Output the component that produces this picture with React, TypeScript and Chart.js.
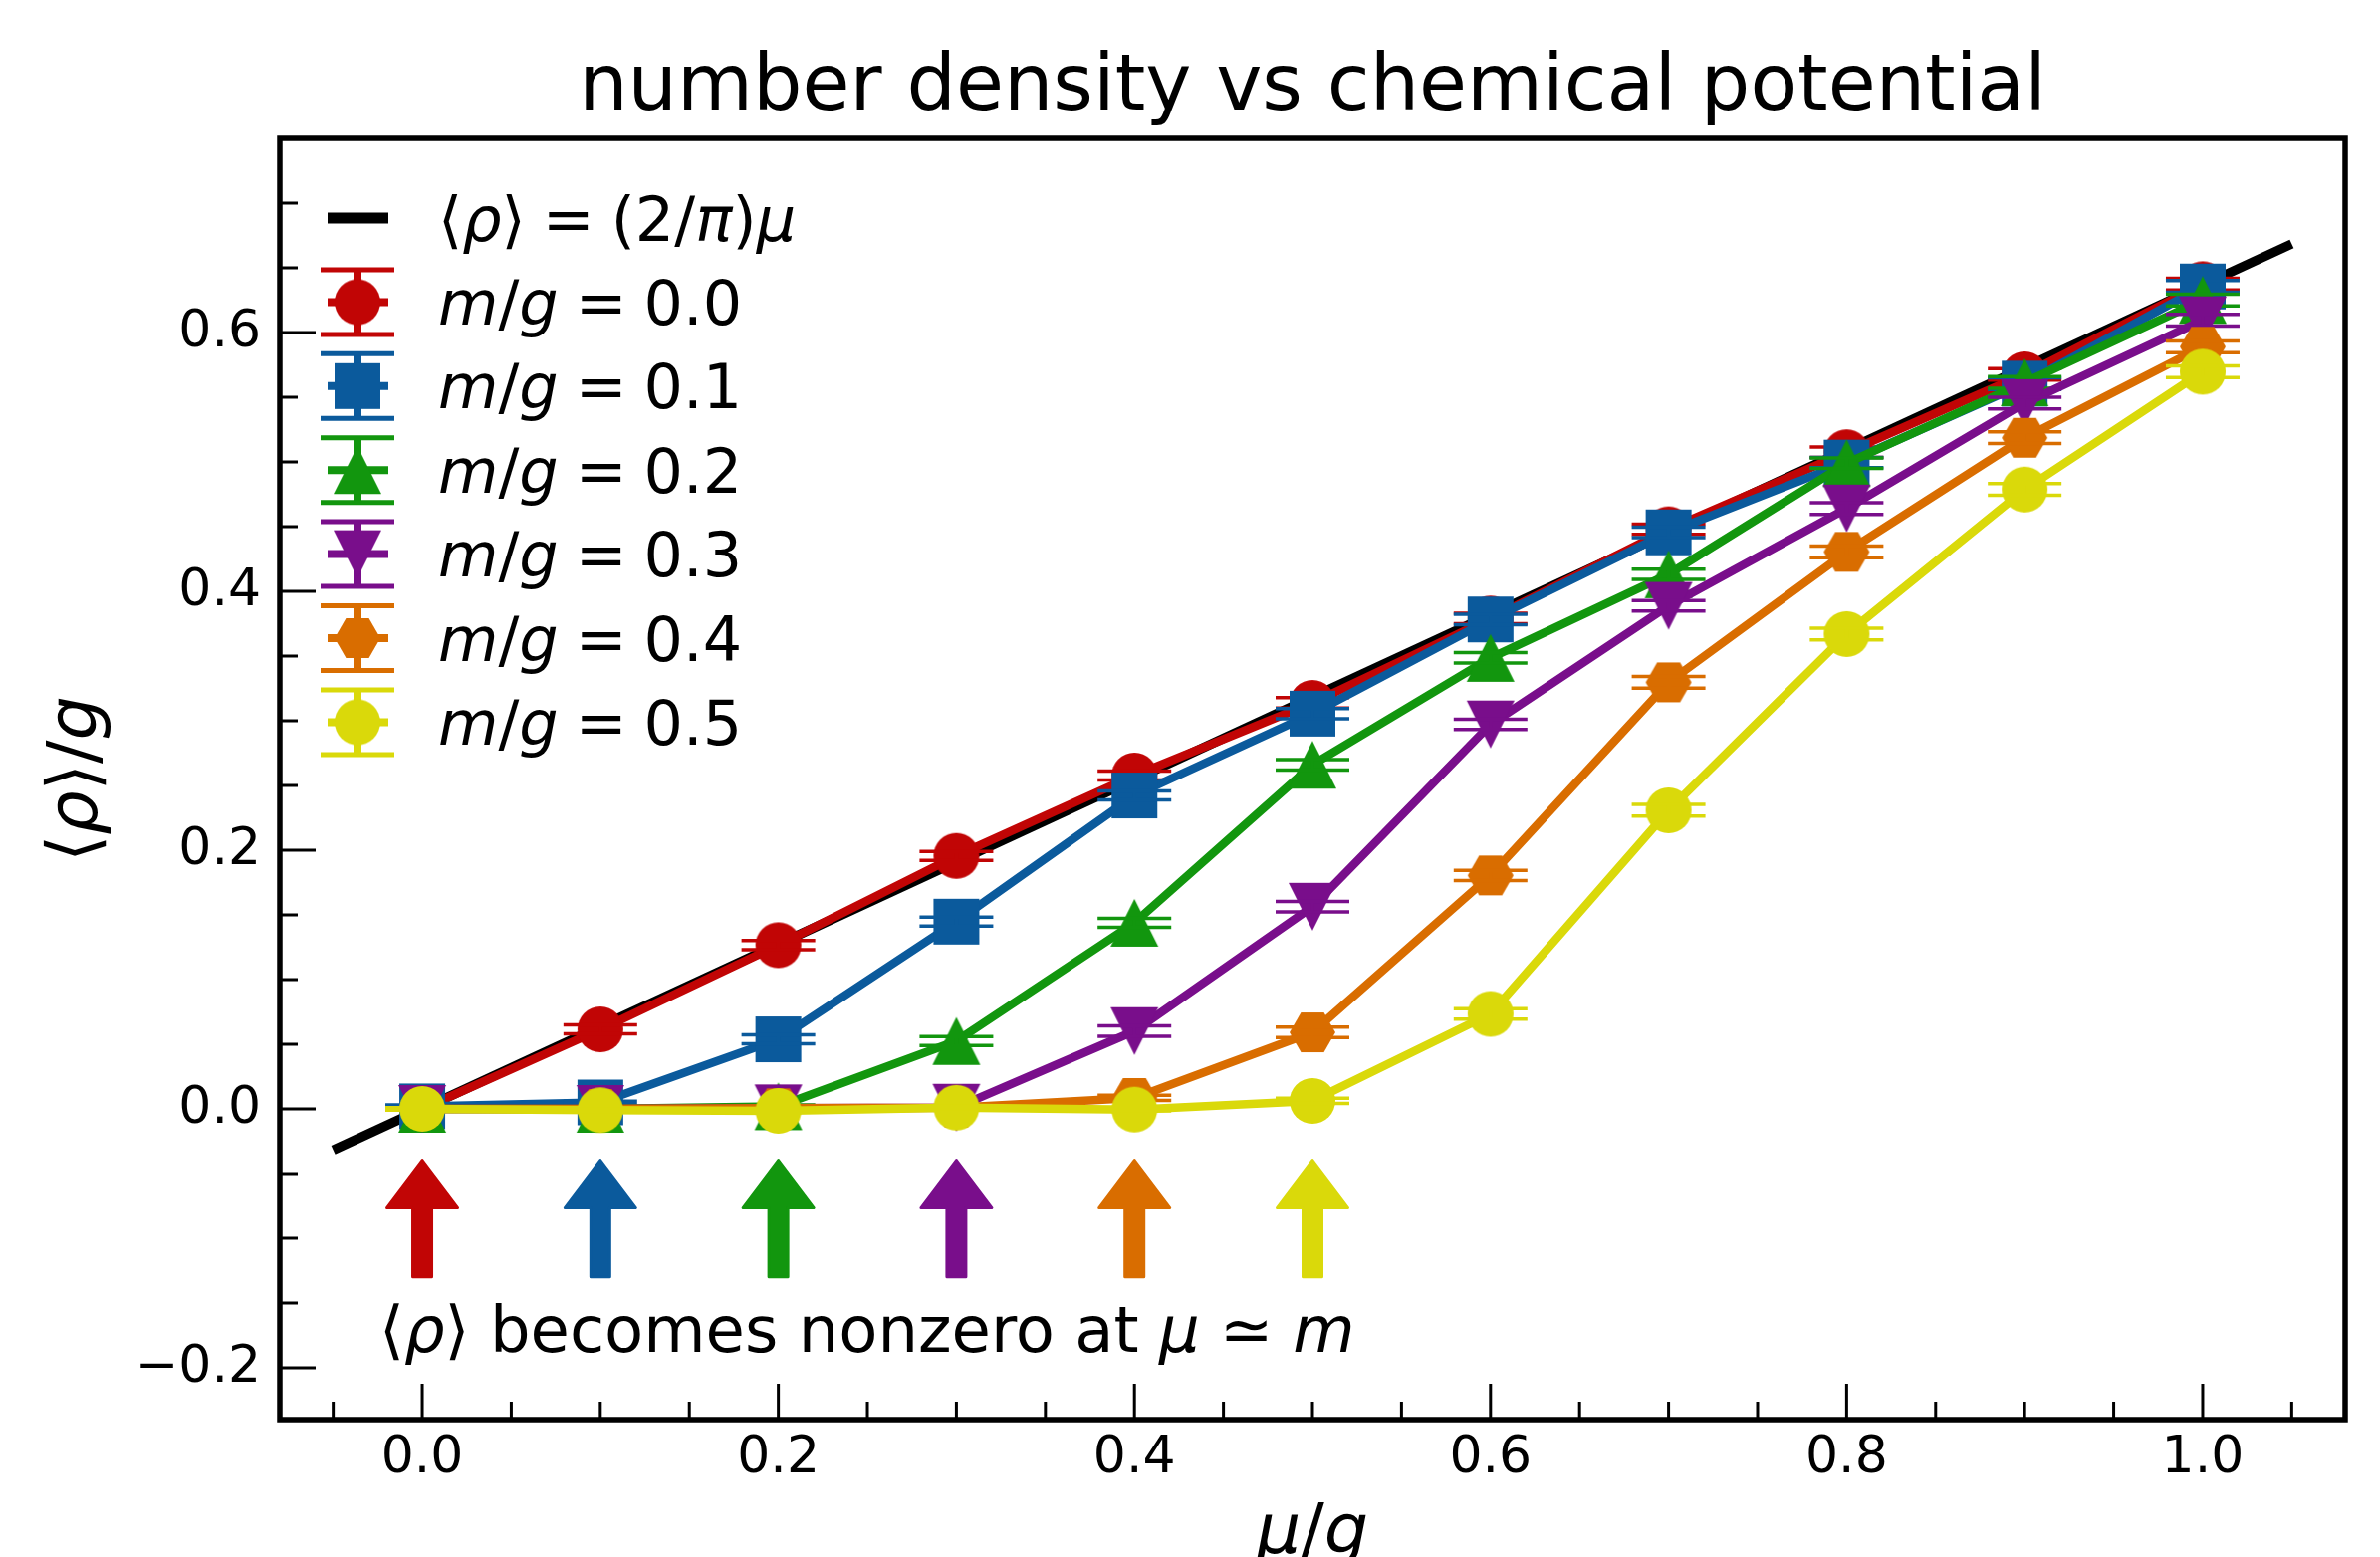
import React, { useEffect, useRef } from 'react';
import { Chart, registerables } from 'chart.js';

Chart.register(...registerables);

// ---------- data ----------
const muValues = [0.0, 0.1, 0.2, 0.3, 0.4, 0.5, 0.6, 0.7, 0.8, 0.9, 1.0];
const massLabels = ['0.0', '0.1', '0.2', '0.3', '0.4', '0.5'];

const rhoM00 = [0.0, 0.0615, 0.1266, 0.1956, 0.2577, 0.3138, 0.379, 0.448, 0.5075, 0.5677, 0.6374];
const rhoM01 = [0.002, 0.005, 0.0538, 0.1448, 0.2423, 0.3055, 0.3783, 0.4456, 0.4995, 0.5605, 0.6356];
const rhoM02 = [0.0, 0.0, 0.002, 0.0525, 0.1439, 0.266, 0.3486, 0.4132, 0.499, 0.5615, 0.6251];
const rhoM03 = [0.0, 0.0, 0.0005, 0.001, 0.0602, 0.1563, 0.2972, 0.3888, 0.464, 0.5455, 0.6095];
const rhoM04 = [0.0, 0.0, 0.0005, 0.001, 0.0085, 0.0592, 0.1805, 0.3297, 0.4305, 0.5187, 0.589];
const rhoM05 = [0.0, -0.001, -0.0015, 0.001, -0.0005, 0.0062, 0.0735, 0.2308, 0.367, 0.4787, 0.5697];

const errM00 = [0.001, 0.0035, 0.0035, 0.0035, 0.0035, 0.004, 0.004, 0.004, 0.004, 0.0045, 0.0045];
const errM01 = [0.001, 0.001, 0.0035, 0.0035, 0.0035, 0.004, 0.004, 0.004, 0.004, 0.0045, 0.0045];
const errM02 = [0.001, 0.001, 0.001, 0.0035, 0.0035, 0.004, 0.004, 0.004, 0.004, 0.0045, 0.0045];
const errM03 = [0.001, 0.001, 0.001, 0.001, 0.004, 0.004, 0.004, 0.004, 0.0045, 0.0045, 0.0045];
const errM04 = [0.001, 0.001, 0.001, 0.001, 0.002, 0.004, 0.004, 0.0045, 0.0045, 0.0045, 0.0045];
const errM05 = [0.001, 0.001, 0.001, 0.001, 0.001, 0.002, 0.004, 0.0045, 0.0045, 0.0045, 0.0045];

const theoryMu = [-0.05, 1.05];
const theoryRho = [-0.0318, 0.6685];

const arrowMu = [0.0, 0.1, 0.2, 0.3, 0.4, 0.5];
const arrowTailRho = -0.131;
const arrowTipRho = -0.0385;

const xMajorTicks = [0.0, 0.2, 0.4, 0.6, 0.8, 1.0];
const xMinorTicks = [-0.05, 0.05, 0.1, 0.15, 0.25, 0.3, 0.35, 0.45, 0.5, 0.55, 0.65, 0.7, 0.75, 0.85, 0.9, 0.95, 1.05];
const yMajorTicks = [-0.2, 0.0, 0.2, 0.4, 0.6];
const yMinorTicks = [-0.15, -0.1, -0.05, 0.05, 0.1, 0.15, 0.25, 0.3, 0.35, 0.45, 0.5, 0.55, 0.65, 0.7];

const seriesColors = ['#C10505', '#0B5A9C', '#12960E', '#790E8B', '#D96D00', '#DAD90A'];
const seriesMarkers = ['circle', 'square', 'triUp', 'triDown', 'hexagon', 'circle'];

const W = 2390;
const H = 1564;
const FONT = '"DejaVu Sans"';

type Seg = { t: string; it?: boolean; gap?: number };

function fontStr(size: number, it?: boolean) {
  return `${it ? 'italic ' : ''}${size}px ${FONT}`;
}

function drawRich(ctx: CanvasRenderingContext2D, segs: Seg[], x: number, y: number, size: number, align: 'left' | 'center') {
  ctx.save();
  ctx.textBaseline = 'alphabetic';
  ctx.textAlign = 'left';
  ctx.fillStyle = '#000';
  let total = 0;
  const widths = segs.map((s) => {
    ctx.font = fontStr(size, s.it);
    const w = ctx.measureText(s.t).width + (s.gap || 0);
    total += w;
    return w;
  });
  let cx = align === 'center' ? x - total / 2 : x;
  segs.forEach((s, i) => {
    ctx.font = fontStr(size, s.it);
    ctx.fillText(s.t, cx + (s.gap || 0), y);
    cx += widths[i];
  });
  ctx.restore();
}

function makeMarker(kind: string, color: string): HTMLCanvasElement {
  const c = document.createElement('canvas');
  c.width = 52;
  c.height = 52;
  const g = c.getContext('2d')!;
  g.fillStyle = color;
  g.translate(26, 26);
  g.beginPath();
  if (kind === 'circle') {
    g.arc(0, 0, 23, 0, Math.PI * 2);
  } else if (kind === 'square') {
    g.rect(-23, -23, 46, 46);
  } else if (kind === 'triUp') {
    g.moveTo(0, -24);
    g.lineTo(24, 24);
    g.lineTo(-24, 24);
    g.closePath();
  } else if (kind === 'triDown') {
    g.moveTo(0, 24);
    g.lineTo(24, -24);
    g.lineTo(-24, -24);
    g.closePath();
  } else if (kind === 'hexagon') {
    const r = 23;
    for (let k = 0; k < 6; k++) {
      const a = (Math.PI / 3) * k;
      const px = r * Math.cos(a);
      const py = r * Math.sin(a);
      if (k === 0) g.moveTo(px, py);
      else g.lineTo(px, py);
    }
    g.closePath();
  }
  g.fill();
  return c;
}

export default function App() {
  const canvasRef = useRef<HTMLCanvasElement | null>(null);

  useEffect(() => {
    const canvas = canvasRef.current;
    if (!canvas) return;
    const seriesValues = [rhoM00, rhoM01, rhoM02, rhoM03, rhoM04, rhoM05];
    const seriesErrors = [errM00, errM01, errM02, errM03, errM04, errM05];
    const markerCanvases = seriesMarkers.map((m, i) => makeMarker(m, seriesColors[i]));

    const datasets: any[] = seriesValues.map((vals, i) => ({
      label: `m/g = ${massLabels[i]}`,
      data: muValues.map((m, j) => ({ x: m, y: vals[j] })),
      borderColor: seriesColors[i],
      backgroundColor: seriesColors[i],
      borderWidth: 8.5,
      borderJoinStyle: 'round',
      pointStyle: markerCanvases[i],
      pointRadius: 23,
      pointHoverRadius: 23,
      tension: 0,
      fill: false,
      order: 6 - i,
    }));
    datasets.push({
      label: 'theory',
      data: theoryMu.map((m, j) => ({ x: m, y: theoryRho[j] })),
      borderColor: '#000',
      backgroundColor: '#000',
      borderWidth: 9.5,
      pointRadius: 0,
      tension: 0,
      fill: false,
      order: 10,
    });

    const errorBarPlugin = {
      id: 'errorBars',
      afterDatasetDraw(chart: any, args: any) {
        const i = args.index;
        if (i >= seriesValues.length) return;
        const ctx = chart.ctx as CanvasRenderingContext2D;
        const xs = chart.scales.x;
        const ys = chart.scales.y;
        ctx.save();
        ctx.strokeStyle = seriesColors[i];
        ctx.lineCap = 'butt';
        seriesValues[i].forEach((v, j) => {
          const e = seriesErrors[i][j];
          const px = xs.getPixelForValue(muValues[j]);
          const pTop = ys.getPixelForValue(v + e);
          const pBot = ys.getPixelForValue(v - e);
          ctx.lineWidth = 3.5;
          ctx.beginPath();
          ctx.moveTo(px, pTop);
          ctx.lineTo(px, pBot);
          ctx.moveTo(px - 37, pTop);
          ctx.lineTo(px + 37, pTop);
          ctx.moveTo(px - 37, pBot);
          ctx.lineTo(px + 37, pBot);
          ctx.stroke();
        });
        ctx.restore();
      },
    };

    const decorPlugin = {
      id: 'decor',
      afterDraw(chart: any) {
        const ctx = chart.ctx as CanvasRenderingContext2D;
        const xs = chart.scales.x;
        const ys = chart.scales.y;
        const a = chart.chartArea;

        // arrows
        arrowMu.forEach((m, i) => {
          const px = xs.getPixelForValue(m);
          const tip = ys.getPixelForValue(arrowTipRho) + 1.5;
          const tail = ys.getPixelForValue(arrowTailRho) - 1.5;
          const headBase = tip + 47;
          const hw = 35.5;
          const sw = 9.5;
          ctx.save();
          ctx.fillStyle = seriesColors[i];
          ctx.strokeStyle = seriesColors[i];
          ctx.lineWidth = 3;
          ctx.lineJoin = 'round';
          ctx.beginPath();
          ctx.moveTo(px, tip);
          ctx.lineTo(px + hw, headBase);
          ctx.lineTo(px + sw, headBase);
          ctx.lineTo(px + sw, tail);
          ctx.lineTo(px - sw, tail);
          ctx.lineTo(px - sw, headBase);
          ctx.lineTo(px - hw, headBase);
          ctx.closePath();
          ctx.fill();
          ctx.stroke();
          ctx.restore();
        });

        // ticks (inward, left and bottom)
        ctx.save();
        ctx.strokeStyle = '#000';
        ctx.lineWidth = 3;
        ctx.lineCap = 'butt';
        const tickX = (vals: number[], len: number) => {
          vals.forEach((v) => {
            const px = xs.getPixelForValue(v);
            ctx.beginPath();
            ctx.moveTo(px, a.bottom);
            ctx.lineTo(px, a.bottom - len);
            ctx.stroke();
          });
        };
        const tickY = (vals: number[], len: number) => {
          vals.forEach((v) => {
            const py = ys.getPixelForValue(v);
            ctx.beginPath();
            ctx.moveTo(a.left, py);
            ctx.lineTo(a.left + len, py);
            ctx.stroke();
          });
        };
        tickX(xMajorTicks, 36);
        tickX(xMinorTicks, 18);
        tickY(yMajorTicks, 36);
        tickY(yMinorTicks, 18);
        // spines
        ctx.lineWidth = 5.5;
        ctx.lineJoin = 'miter';
        ctx.strokeRect(a.left, a.top, a.right - a.left, a.bottom - a.top);
        ctx.restore();

        // title
        ctx.save();
        ctx.fillStyle = '#000';
        ctx.font = fontStr(78);
        ctx.textAlign = 'center';
        ctx.textBaseline = 'alphabetic';
        ctx.fillText('number density vs chemical potential', (a.left + a.right) / 2, 110);
        ctx.restore();

        // axis labels
        drawRich(ctx, [{ t: 'μ', it: true }, { t: '/' }, { t: 'g', it: true }], (a.left + a.right) / 2, 1560, 70, 'center');
        ctx.save();
        ctx.translate(97, (a.top + a.bottom) / 2);
        ctx.rotate(-Math.PI / 2);
        drawRich(ctx, [{ t: '⟨' }, { t: 'ρ', it: true }, { t: '⟩/' }, { t: 'g', it: true }], 0, 0, 70, 'center');
        ctx.restore();

        // annotation
        drawRich(
          ctx,
          [
            { t: '⟨' },
            { t: 'ρ', it: true },
            { t: '⟩ becomes nonzero at ' },
            { t: 'μ', it: true },
            { t: '≃', gap: 20 },
            { t: 'm', it: true, gap: 20 },
          ],
          381,
          1358,
          64,
          'left'
        );

        // legend
        const hx = 359;
        const textX = 440;
        const row0 = 219;
        const rowGap = 84.4;
        ctx.save();
        ctx.strokeStyle = '#000';
        ctx.lineWidth = 11;
        ctx.beginPath();
        ctx.moveTo(329, row0);
        ctx.lineTo(390, row0);
        ctx.stroke();
        ctx.restore();
        drawRich(
          ctx,
          [
            { t: '⟨' },
            { t: 'ρ', it: true },
            { t: '⟩' },
            { t: '=', gap: 17 },
            { t: '(2/', gap: 17 },
            { t: 'π', it: true },
            { t: ')' },
            { t: 'μ', it: true },
          ],
          textX,
          row0 + 22.6,
          62,
          'left'
        );
        massLabels.forEach((lab, i) => {
          const cy = row0 + rowGap * (i + 1);
          const col = seriesColors[i];
          ctx.save();
          ctx.strokeStyle = col;
          ctx.lineWidth = 8;
          ctx.beginPath();
          ctx.moveTo(329, cy);
          ctx.lineTo(390, cy);
          ctx.moveTo(hx, cy - 32.5);
          ctx.lineTo(hx, cy + 32.5);
          ctx.stroke();
          ctx.lineWidth = 5;
          ctx.beginPath();
          ctx.moveTo(322, cy - 32.5);
          ctx.lineTo(396, cy - 32.5);
          ctx.moveTo(322, cy + 32.5);
          ctx.lineTo(396, cy + 32.5);
          ctx.stroke();
          const mk = markerCanvases[i];
          ctx.drawImage(mk, hx - mk.width / 2, cy - mk.height / 2);
          ctx.restore();
          drawRich(
            ctx,
            [
              { t: 'm', it: true },
              { t: '/' },
              { t: 'g', it: true },
              { t: '=', gap: 17 },
              { t: lab, gap: 17 },
            ],
            textX,
            cy + 22.6,
            62,
            'left'
          );
        });
      },
    };

    const tickFont = { family: 'DejaVu Sans', size: 52 };
    const chart = new Chart(canvas, {
      type: 'line',
      data: { datasets },
      options: {
        responsive: false,
        animation: false,
        devicePixelRatio: 1,
        events: [],
        layout: { padding: { top: 139, right: 35, left: 0, bottom: 0 } },
        plugins: {
          legend: { display: false },
          title: { display: false },
          tooltip: { enabled: false },
        },
        scales: {
          x: {
            type: 'linear',
            min: -0.08,
            max: 1.08,
            grid: { display: false, drawTicks: false },
            border: { display: false },
            ticks: {
              font: tickFont,
              color: '#000',
              padding: 8,
              maxRotation: 0,
              autoSkip: false,
              callback: (v: any) => Number(v).toFixed(1),
            },
            afterBuildTicks: (s: any) => {
              s.ticks = xMajorTicks.map((v) => ({ value: v }));
            },
            afterFit: (s: any) => {
              s.height = H - 1426;
            },
          },
          y: {
            type: 'linear',
            min: -0.24,
            max: 0.75,
            grid: { display: false, drawTicks: false },
            border: { display: false },
            ticks: {
              font: tickFont,
              color: '#000',
              padding: 19,
              autoSkip: false,
              callback: (v: any) => {
                const n = Number(v);
                return n < 0 ? '\u2212' + Math.abs(n).toFixed(1) : n.toFixed(1);
              },
            },
            afterBuildTicks: (s: any) => {
              s.ticks = yMajorTicks.map((v) => ({ value: v }));
            },
            afterFit: (s: any) => {
              s.width = 281;
            },
          },
        },
      } as any,
      plugins: [errorBarPlugin, decorPlugin],
    });

    if ((document as any).fonts && (document as any).fonts.ready) {
      (document as any).fonts.ready.then(() => {
        try {
          chart.draw();
        } catch (e) {}
      });
    }

    return () => {
      chart.destroy();
    };
  }, []);

  return (
    <div style={{ position: 'absolute', left: 0, top: 0, width: W, height: H, background: '#fff' }}>
      <canvas ref={canvasRef} width={W} height={H} style={{ width: W, height: H, display: 'block' }} />
    </div>
  );
}
